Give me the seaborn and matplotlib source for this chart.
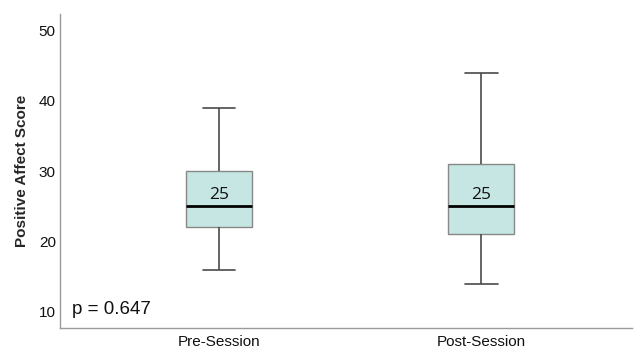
import pandas as pd
import matplotlib.pyplot as plt
import seaborn as sns

# five-number summaries (min, Q1, median, Q3, max)
sessions = ['Pre-Session', 'Post-Session']
pre_vals = [16, 22, 25, 30, 39]
post_vals = [14, 21, 25, 31, 44]
medians = [25, 25]
p_text = 'p = 0.647'

df = pd.DataFrame({
    'Session': [sessions[0]] * len(pre_vals) + [sessions[1]] * len(post_vals),
    'Score': pre_vals + post_vals,
})

sns.set_style('white')
plt.rcParams['font.family'] = ['Liberation Sans', 'DejaVu Sans']

fig = plt.figure(figsize=(6.34, 3.54), dpi=100)
ax = fig.add_axes([0.0946, 0.0734, 0.9024, 0.8866])

sns.boxplot(data=df, x='Session', y='Score', order=sessions, ax=ax,
            width=0.25, whis=10, color='#c6e6e4', saturation=1,
            linecolor='#4a4a4a', linewidth=1.2,
            medianprops={'color': 'black', 'linewidth': 2.0},
            capprops={'color': '#4a4a4a'},
            whiskerprops={'color': '#4a4a4a'},
            boxprops={'edgecolor': '#888888', 'linewidth': 1.0},
            showfliers=False)

for i, m in enumerate(medians):
    ax.text(i, m + 0.5, str(m), ha='center', va='bottom', fontsize=12.5,
            family=['Open Sans', 'DejaVu Sans'], color='#111111')

ax.text(-0.56, 10.4, p_text, ha='left', va='center', fontsize=13.5, color='#111111')

ax.set_xlim(-0.607, 1.576)
ax.set_ylim(7.7, 52.3)
ax.set_yticks([10, 20, 30, 40, 50])
ax.tick_params(axis='both', length=0, labelsize=11, colors='#111111')
ax.tick_params(axis='x', pad=5)
ax.tick_params(axis='y', pad=3)
ax.set_xlabel('')
ax.set_ylabel('Positive Affect Score', fontsize=11, fontweight='bold', labelpad=7)

sns.despine(ax=ax)
for s in ['left', 'bottom']:
    ax.spines[s].set_color('#9a9a9a')
    ax.spines[s].set_linewidth(1.0)

fig.savefig('out.png', dpi=100)
